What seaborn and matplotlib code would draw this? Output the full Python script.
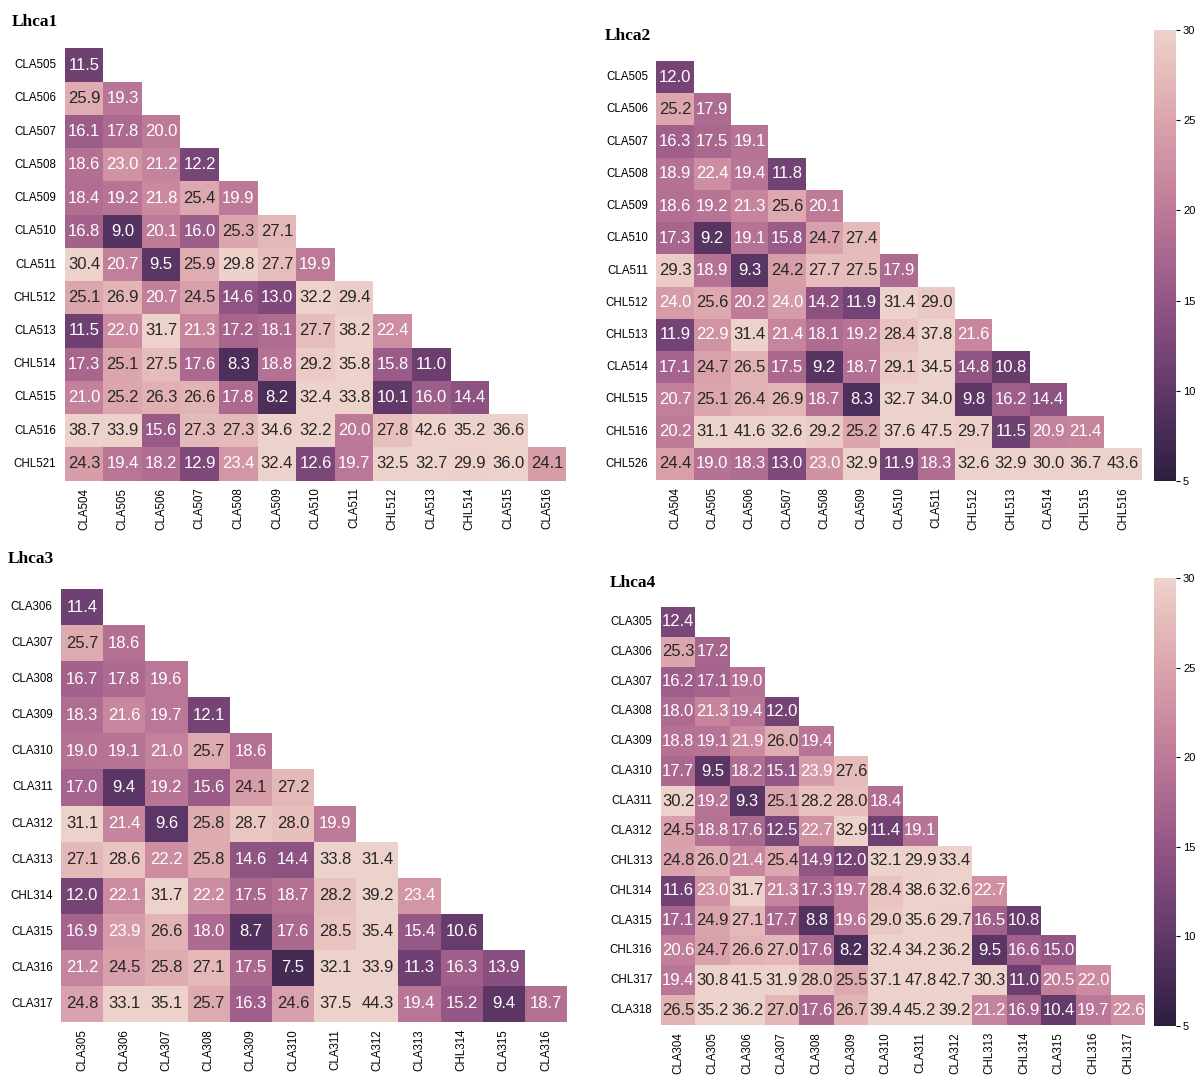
import numpy as np
import pandas as pd
import matplotlib
matplotlib.use("Agg")
import matplotlib.pyplot as plt
import seaborn as sns

plt.rcParams["font.family"] = ["Liberation Sans", "DejaVu Sans"]

# ---- Lhca1 -------------------------------------------------------------
lhca1_rows = ["CLA505", "CLA506", "CLA507", "CLA508", "CLA509", "CLA510", "CLA511",
              "CHL512", "CLA513", "CHL514", "CLA515", "CLA516", "CHL521"]
lhca1_cols = ["CLA504", "CLA505", "CLA506", "CLA507", "CLA508", "CLA509", "CLA510",
              "CLA511", "CHL512", "CLA513", "CHL514", "CLA515", "CLA516"]
lhca1_vals = [
    [11.5],
    [25.9, 19.3],
    [16.1, 17.8, 20.0],
    [18.6, 23.0, 21.2, 12.2],
    [18.4, 19.2, 21.8, 25.4, 19.9],
    [16.8, 9.0, 20.1, 16.0, 25.3, 27.1],
    [30.4, 20.7, 9.5, 25.9, 29.8, 27.7, 19.9],
    [25.1, 26.9, 20.7, 24.5, 14.6, 13.0, 32.2, 29.4],
    [11.5, 22.0, 31.7, 21.3, 17.2, 18.1, 27.7, 38.2, 22.4],
    [17.3, 25.1, 27.5, 17.6, 8.3, 18.8, 29.2, 35.8, 15.8, 11.0],
    [21.0, 25.2, 26.3, 26.6, 17.8, 8.2, 32.4, 33.8, 10.1, 16.0, 14.4],
    [38.7, 33.9, 15.6, 27.3, 27.3, 34.6, 32.2, 20.0, 27.8, 42.6, 35.2, 36.6],
    [24.3, 19.4, 18.2, 12.9, 23.4, 32.4, 12.6, 19.7, 32.5, 32.7, 29.9, 36.0, 24.1],
]

# ---- Lhca2 -------------------------------------------------------------
lhca2_rows = ["CLA505", "CLA506", "CLA507", "CLA508", "CLA509", "CLA510", "CLA511",
              "CHL512", "CHL513", "CLA514", "CHL515", "CHL516", "CHL526"]
lhca2_cols = ["CLA504", "CLA505", "CLA506", "CLA507", "CLA508", "CLA509", "CLA510",
              "CLA511", "CHL512", "CHL513", "CLA514", "CHL515", "CHL516"]
lhca2_vals = [
    [12.0],
    [25.2, 17.9],
    [16.3, 17.5, 19.1],
    [18.9, 22.4, 19.4, 11.8],
    [18.6, 19.2, 21.3, 25.6, 20.1],
    [17.3, 9.2, 19.1, 15.8, 24.7, 27.4],
    [29.3, 18.9, 9.3, 24.2, 27.7, 27.5, 17.9],
    [24.0, 25.6, 20.2, 24.0, 14.2, 11.9, 31.4, 29.0],
    [11.9, 22.9, 31.4, 21.4, 18.1, 19.2, 28.4, 37.8, 21.6],
    [17.1, 24.7, 26.5, 17.5, 9.2, 18.7, 29.1, 34.5, 14.8, 10.8],
    [20.7, 25.1, 26.4, 26.9, 18.7, 8.3, 32.7, 34.0, 9.8, 16.2, 14.4],
    [20.2, 31.1, 41.6, 32.6, 29.2, 25.2, 37.6, 47.5, 29.7, 11.5, 20.9, 21.4],
    [24.4, 19.0, 18.3, 13.0, 23.0, 32.9, 11.9, 18.3, 32.6, 32.9, 30.0, 36.7, 43.6],
]

# ---- Lhca3 -------------------------------------------------------------
lhca3_rows = ["CLA306", "CLA307", "CLA308", "CLA309", "CLA310", "CLA311", "CLA312",
              "CLA313", "CHL314", "CLA315", "CLA316", "CLA317"]
lhca3_cols = ["CLA305", "CLA306", "CLA307", "CLA308", "CLA309", "CLA310", "CLA311",
              "CLA312", "CLA313", "CHL314", "CLA315", "CLA316"]
lhca3_vals = [
    [11.4],
    [25.7, 18.6],
    [16.7, 17.8, 19.6],
    [18.3, 21.6, 19.7, 12.1],
    [19.0, 19.1, 21.0, 25.7, 18.6],
    [17.0, 9.4, 19.2, 15.6, 24.1, 27.2],
    [31.1, 21.4, 9.6, 25.8, 28.7, 28.0, 19.9],
    [27.1, 28.6, 22.2, 25.8, 14.6, 14.4, 33.8, 31.4],
    [12.0, 22.1, 31.7, 22.2, 17.5, 18.7, 28.2, 39.2, 23.4],
    [16.9, 23.9, 26.6, 18.0, 8.7, 17.6, 28.5, 35.4, 15.4, 10.6],
    [21.2, 24.5, 25.8, 27.1, 17.5, 7.5, 32.1, 33.9, 11.3, 16.3, 13.9],
    [24.8, 33.1, 35.1, 25.7, 16.3, 24.6, 37.5, 44.3, 19.4, 15.2, 9.4, 18.7],
]

# ---- Lhca4 -------------------------------------------------------------
lhca4_rows = ["CLA305", "CLA306", "CLA307", "CLA308", "CLA309", "CLA310", "CLA311",
              "CLA312", "CHL313", "CHL314", "CLA315", "CHL316", "CHL317", "CLA318"]
lhca4_cols = ["CLA304", "CLA305", "CLA306", "CLA307", "CLA308", "CLA309", "CLA310",
              "CLA311", "CLA312", "CHL313", "CHL314", "CLA315", "CHL316", "CHL317"]
lhca4_vals = [
    [12.4],
    [25.3, 17.2],
    [16.2, 17.1, 19.0],
    [18.0, 21.3, 19.4, 12.0],
    [18.8, 19.1, 21.9, 26.0, 19.4],
    [17.7, 9.5, 18.2, 15.1, 23.9, 27.6],
    [30.2, 19.2, 9.3, 25.1, 28.2, 28.0, 18.4],
    [24.5, 18.8, 17.6, 12.5, 22.7, 32.9, 11.4, 19.1],
    [24.8, 26.0, 21.4, 25.4, 14.9, 12.0, 32.1, 29.9, 33.4],
    [11.6, 23.0, 31.7, 21.3, 17.3, 19.7, 28.4, 38.6, 32.6, 22.7],
    [17.1, 24.9, 27.1, 17.7, 8.8, 19.6, 29.0, 35.6, 29.7, 16.5, 10.8],
    [20.6, 24.7, 26.6, 27.0, 17.6, 8.2, 32.4, 34.2, 36.2, 9.5, 16.6, 15.0],
    [19.4, 30.8, 41.5, 31.9, 28.0, 25.5, 37.1, 47.8, 42.7, 30.3, 11.0, 20.5, 22.0],
    [26.5, 35.2, 36.2, 27.0, 17.6, 26.7, 39.4, 45.2, 39.2, 21.2, 16.9, 10.4, 19.7, 22.6],
]

VMIN, VMAX = 5, 30
cmap = sns.cubehelix_palette(as_cmap=True, reverse=True)

W, H = 1198, 1077
fig = plt.figure(figsize=(W / 100, H / 100), dpi=100)


def px_axes(left, top, right, bottom):
    """Create axes from pixel bounds (origin at the top-left corner)."""
    return fig.add_axes([left / W, 1 - bottom / H, (right - left) / W, (bottom - top) / H])


def lower_frame(rows, cols, vals):
    mat = np.full((len(rows), len(cols)), np.nan)
    for i, r in enumerate(vals):
        mat[i, :len(r)] = r
    return pd.DataFrame(mat, index=rows, columns=cols)


panels = [
    ("Lhca1", lhca1_rows, lhca1_cols, lhca1_vals, (64.7, 48.4, 566.3, 480.6), None, (12, 22)),
    ("Lhca2", lhca2_rows, lhca2_cols, lhca2_vals, (656.3, 60.9, 1141.7, 480.1),
     (1154, 30, 1176, 481), (605, 36)),
    ("Lhca3", lhca3_rows, lhca3_cols, lhca3_vals, (61, 589, 567, 1022), None, (8, 559)),
    ("Lhca4", lhca4_rows, lhca4_cols, lhca4_vals, (660.7, 607, 1145.3, 1025),
     (1154, 578, 1176, 1026), (610, 583)),
]

for name, rows, cols, vals, box, cbox, tpos in panels:
    df = lower_frame(rows, cols, vals)
    ax = px_axes(*box)
    kws = dict(cmap=cmap, vmin=VMIN, vmax=VMAX, annot=True, fmt=".1f",
               annot_kws={"fontsize": 12}, square=False)
    if cbox is not None:
        cax = px_axes(*cbox)
        sns.heatmap(df, ax=ax, cbar=True, cbar_ax=cax, **kws)
        cax.tick_params(labelsize=8, length=3, width=0.8, pad=2)
        cax.set_yticks([5, 10, 15, 20, 25, 30])
    else:
        sns.heatmap(df, ax=ax, cbar=False, **kws)
    ax.tick_params(length=0, labelsize=8.3)
    ax.set_xticklabels(cols, rotation=90)
    ax.set_yticklabels(rows, rotation=0)
    ax.tick_params(axis="x", pad=5)
    ax.tick_params(axis="y", pad=6)
    ax.set_xlabel("")
    ax.set_ylabel("")
    fig.text(tpos[0] / W, 1 - tpos[1] / H, name, family="Liberation Serif",
             fontweight="bold", fontsize=12.5, ha="left", va="center")

fig.savefig("out.png", dpi=100, facecolor="white")
